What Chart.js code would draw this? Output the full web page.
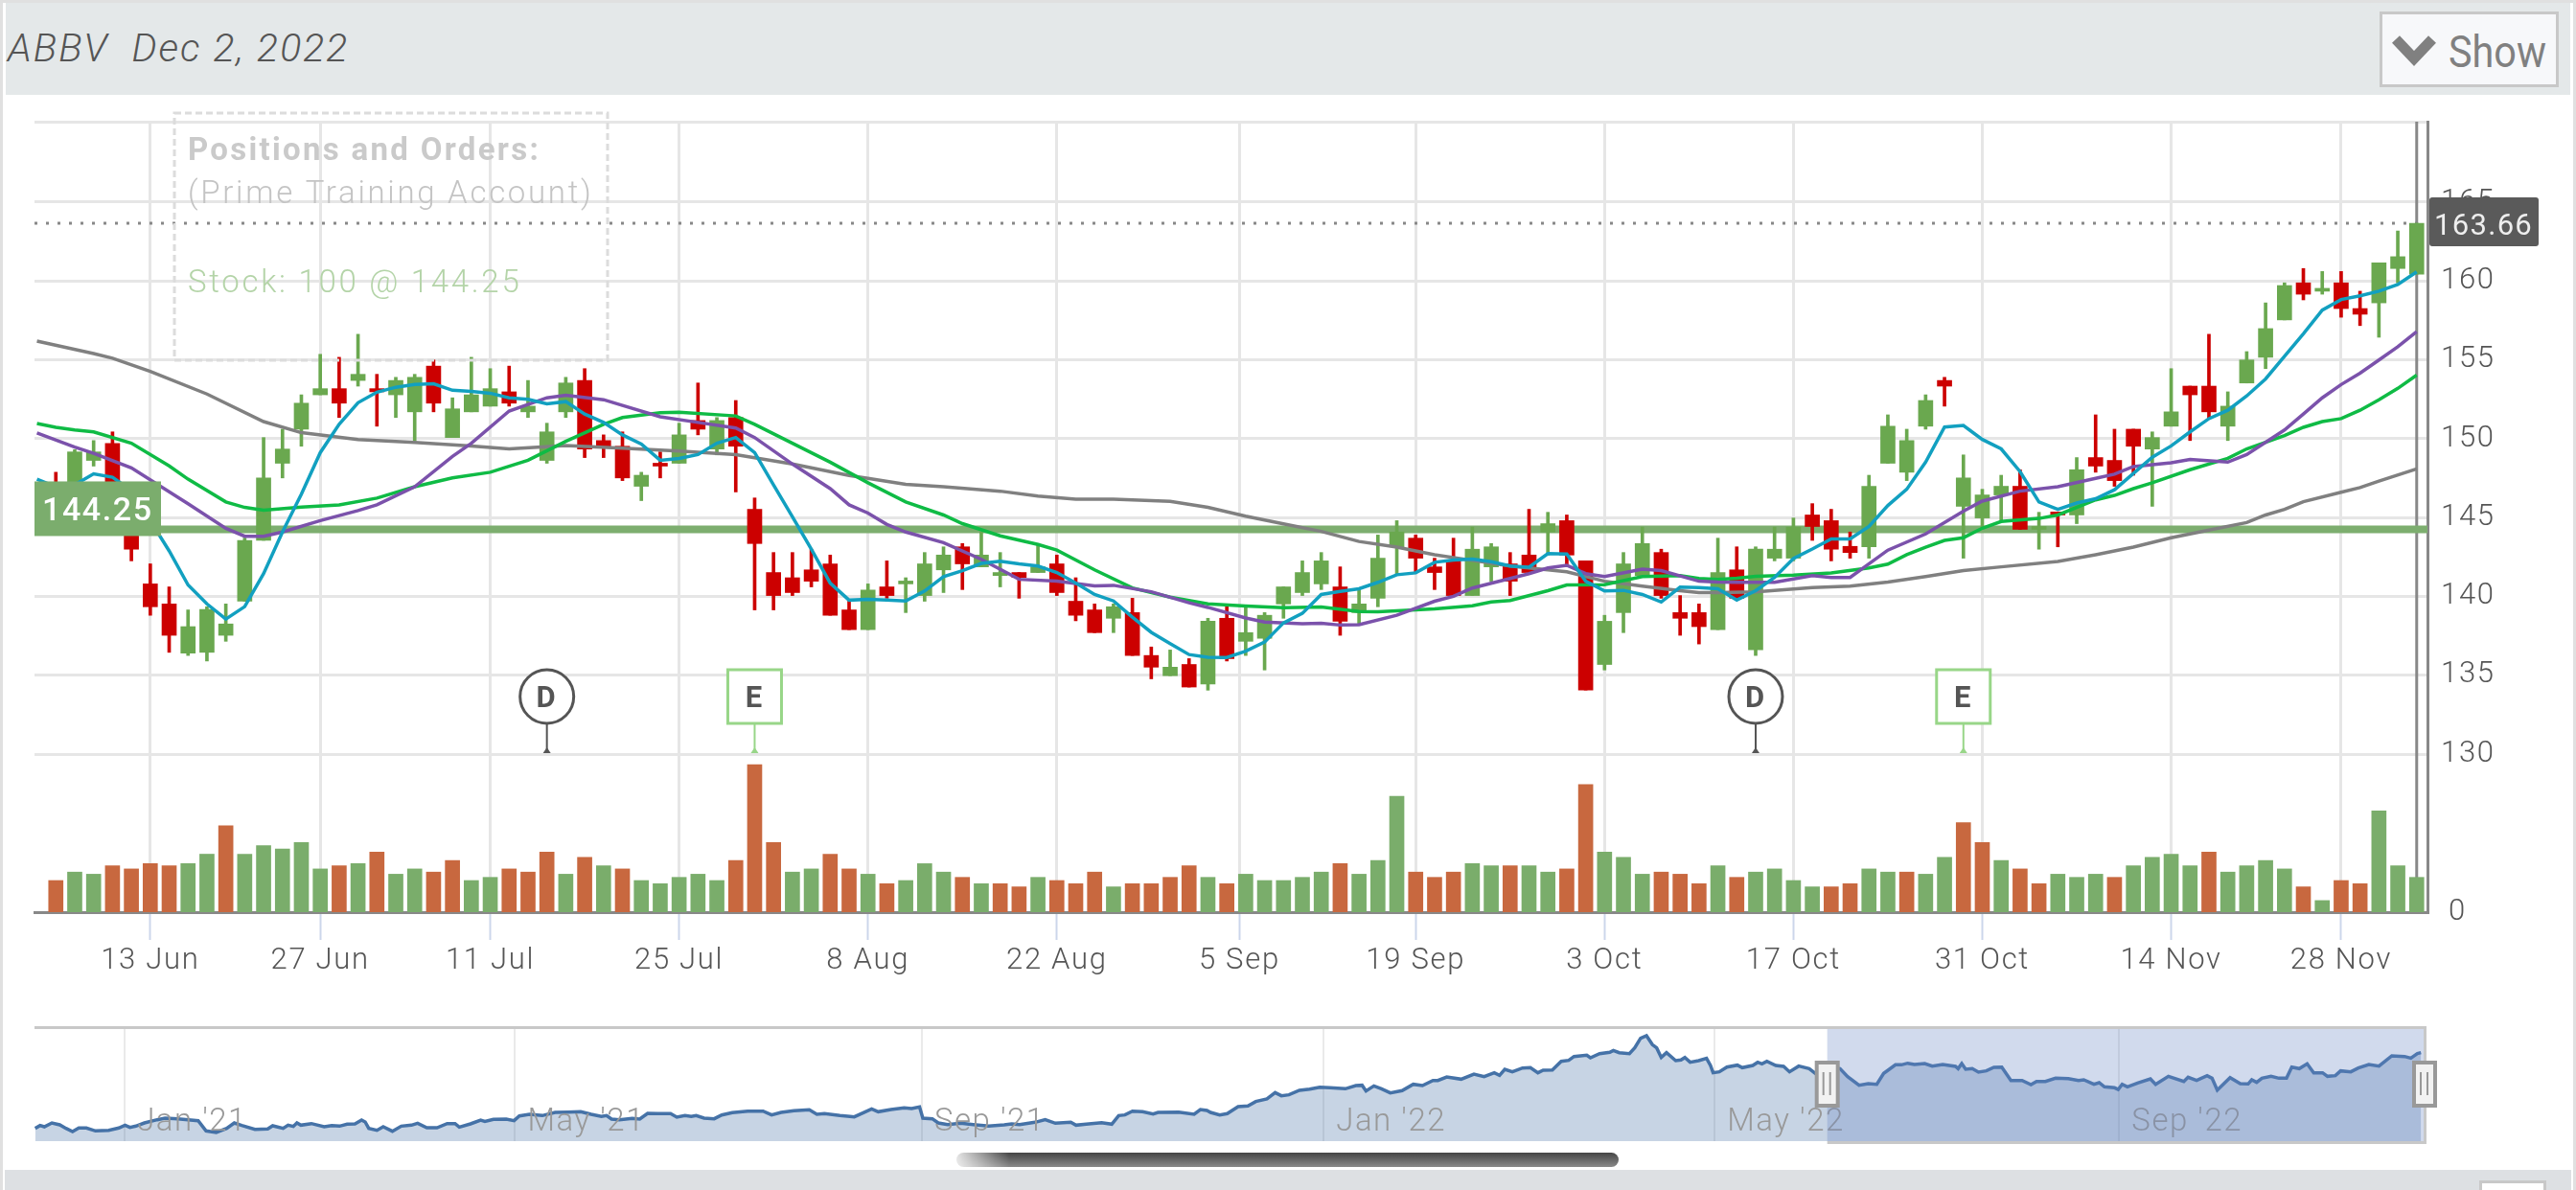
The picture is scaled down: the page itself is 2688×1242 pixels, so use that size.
<!DOCTYPE html>
<html>
<head>
<meta charset="utf-8">
<title>ABBV</title>
<script src="https://cdn.jsdelivr.net/npm/chart.js@4"></script>
<style>
html, body { margin: 0; padding: 0; background: #fff; width: 2688px; height: 1242px; overflow: hidden; font-family: Roboto, sans-serif; }
div, svg, canvas { position: absolute; }
</style>
</head>
<body>
<div style="left:0;top:0;width:2688px;height:3px;background:#e0e0e0"></div>
<div style="left:0;top:0;width:3px;height:1242px;background:#e0e0e0"></div>
<div style="left:2685px;top:0;width:3px;height:1242px;background:#e0e0e0"></div>
<div style="left:6px;top:3px;width:2676px;height:96px;background:#e4e8e9"></div>
<div style="left:8px;top:26px;font-size:41px;font-weight:300;font-style:italic;color:#555;letter-spacing:2px;white-space:pre">ABBV  Dec 2, 2022</div>
<div style="left:2483px;top:12px;width:181px;height:73px;border:3px solid #c8c8c8;background:#f7f8fa"></div>
<svg style="left:2483px;top:14px" width="70" height="79"><polyline points="17,27 36,47 55,27" fill="none" stroke="#808080" stroke-width="11"/></svg>
<div style="left:2555px;top:26px;font-size:47px;color:#808080;transform-origin:0 0;transform:scaleX(0.88)">Show</div>
<canvas id="main" width="2688" height="1060" style="left:0;top:0"></canvas>
<canvas id="nav" width="2688" height="140" style="left:0;top:1060px"></canvas>
<div style="left:998px;top:1203px;width:691px;height:15px;border-radius:8px;background:linear-gradient(to right,rgba(255,255,255,.85),rgba(255,255,255,0) 8%),linear-gradient(to bottom,#454545,#8a8a8a)"></div>
<div style="left:5px;top:1221px;width:2678px;height:21px;background:#dde0e3"></div>
<div style="left:2587px;top:1232px;width:64px;height:10px;border:3px solid #c8c8c8;border-bottom:0;background:#fff"></div>
<script>
// daily bars, Jun 6 to Dec 2 2022, index 0..125
const opens = [146.98,146.24,148.62,149.69,145.3,140.79,139.52,136.4,136.45,137.53,
139.69,143.55,148.44,150.6,152.78,153.17,153.69,153.17,152.78,151.7,
154.6,150.07,151.7,152.06,152.97,151.7,148.62,151.7,153.69,149.88,
149.52,146.98,148.44,148.44,151.15,149.34,151.34,145.52,141.51,141.18,
141.68,142.06,139.14,137.89,140.6,140.79,140.05,141.68,143.14,141.87,
141.32,141.51,141.51,142.06,139.69,139.14,138.61,138.97,136.25,134.97,
135.68,134.44,138.61,137.15,137.34,139.52,140.24,140.79,140.6,138.97,
139.88,143.14,143.69,141.87,142.25,140.05,141.87,142.06,142.62,144.08,
144.8,142.25,135.68,138.97,141.32,142.78,138.97,138.97,137.89,141.68,
136.61,142.42,142.42,145.16,144.8,143.17,143.14,148.44,147.87,150.79,
153.69,145.71,144.97,146.43,146.98,144.25,145.35,145.16,148.8,148.62,
150.6,149.34,150.79,153.33,153.33,150.79,153.53,155.16,157.53,159.88,
159.35,159.88,158.25,158.61,160.79,160.43];
const closes = [145.33,149.16,149.16,145.52,142.99,139.34,137.53,138.08,139.17,138.25,
143.55,147.51,149.34,152.25,153.17,152.25,154.08,152.97,153.69,153.89,
152.25,151.89,152.78,153.17,152.25,152.06,150.43,153.53,149.34,149.52,
147.51,147.68,148.26,150.24,150.6,151.15,149.52,143.35,140.05,140.24,
140.96,138.8,137.89,140.4,140.05,140.96,142.06,142.62,142.06,142.62,
141.51,141.2,141.87,140.24,138.8,137.7,139.34,136.25,135.51,135.51,
134.25,138.42,136.05,137.7,138.8,140.6,141.51,142.25,138.42,139.52,
142.42,144.08,142.42,141.51,140.05,142.99,143.14,140.96,141.51,144.61,
142.62,134.06,138.42,142.06,143.35,140.05,138.61,138.08,141.51,139.88,
142.99,142.99,144.39,144.43,142.99,142.78,146.98,150.79,149.88,152.42,
153.33,147.51,146.43,146.98,144.25,144.39,145.16,148.03,148.26,147.34,
149.52,150.07,151.7,152.78,151.7,152.06,154.99,156.98,159.71,159.16,
159.52,158.25,157.89,161.15,161.54,163.66];
const highs = [147.87,149.3,149.88,150.43,145.6,142.06,140.6,139.14,139.34,139.52,
143.7,150.07,150.6,152.78,155.35,155.16,156.62,154.08,153.89,154.08,
154.99,152.59,155.16,154.44,154.6,153.69,150.98,153.89,154.44,150.24,
150.43,147.87,149.16,150.98,153.53,151.34,152.42,146.24,142.78,142.78,
142.99,142.62,139.69,140.79,142.25,141.18,142.78,143.14,143.35,144.08,
142.78,141.51,143.35,142.62,141.18,139.52,139.52,139.88,136.79,136.6,
136.05,138.61,139.34,139.34,138.97,140.6,142.25,142.78,141.87,140.43,
143.89,144.8,143.89,142.42,143.69,144.39,143.35,142.78,145.52,145.33,
145.16,142.25,138.8,142.78,144.39,142.99,140.05,139.52,143.69,143.14,
143.14,144.39,144.97,145.88,145.52,144.08,147.68,151.51,150.6,152.78,
153.89,148.97,146.79,147.68,148.03,145.33,145.35,148.8,151.51,150.6,
150.6,150.43,154.44,153.33,156.62,152.97,155.52,158.61,159.88,160.79,
160.6,160.6,159.35,161.15,163.17,163.66];
const lows = [144.97,145.9,148.26,145.1,142.25,138.8,136.45,136.25,135.9,137.15,
139.69,143.55,147.51,149.52,152.78,151.34,153.33,150.79,151.34,149.8,
151.7,150.07,151.7,152.06,152.06,151.34,148.44,151.34,148.8,148.8,
147.34,146.07,147.51,148.44,150.24,148.97,146.62,139.14,139.14,140.05,
140.6,138.8,137.89,137.89,139.88,138.97,139.69,140.24,140.43,141.87,
140.6,139.88,141.51,140.05,138.45,137.7,137.7,136.25,134.77,134.97,
134.25,134.05,135.9,136.25,135.33,138.61,140.05,140.43,137.53,138.25,
139.34,141.32,141.51,140.43,140.05,140.05,140.96,140.05,141.51,142.62,
141.97,134.06,135.33,137.7,141.32,139.88,137.53,136.98,137.89,139.88,
136.25,142.25,142.25,143.55,142.25,142.42,142.42,148.44,147.34,150.6,
152.06,142.42,144.39,144.8,144.25,142.99,143.14,144.61,147.87,146.98,
147.68,145.71,150.79,149.88,151.27,149.88,153.53,154.44,157.53,158.8,
159.16,157.7,157.17,156.43,159.88,160.43];
// volume in millions, volUp 1 = green bar
const volumes = [3.0,3.8,3.6,4.4,4.1,4.6,4.4,4.6,5.5,8.2,5.5,6.3,6.0,6.6,4.1,4.4,4.6,5.7,3.6,4.1,
3.8,4.9,3.0,3.3,4.1,3.8,5.7,3.6,5.2,4.4,4.1,3.0,2.7,3.3,3.6,3.0,4.9,14.0,6.6,3.8,
4.1,5.5,4.1,3.6,2.7,3.0,4.6,3.8,3.3,2.7,2.7,2.4,3.3,3.0,2.7,3.8,2.4,2.7,2.7,3.3,
4.4,3.3,2.7,3.6,3.0,3.0,3.3,3.8,4.6,3.6,4.9,11.0,3.8,3.3,3.8,4.6,4.4,4.4,4.4,3.8,
4.1,12.1,5.7,5.2,3.6,3.8,3.6,2.7,4.4,3.3,3.8,4.1,3.0,2.4,2.4,2.7,4.1,3.8,3.8,3.6,
5.2,8.5,6.6,4.9,4.1,2.7,3.6,3.3,3.6,3.3,4.4,5.2,5.5,4.4,5.7,3.8,4.4,4.9,4.1,2.4,
1.1,3.0,2.7,9.6,4.4,3.3];
const volUp = [0,1,1,0,0,0,0,1,1,0,1,1,1,1,1,0,1,0,1,1,
0,0,1,1,0,0,0,1,0,1,0,1,1,1,1,1,0,0,0,1,
1,0,0,1,0,1,1,1,0,1,0,0,1,0,0,0,1,0,0,0,
0,1,0,1,1,1,1,1,0,1,1,1,0,0,0,1,1,0,1,1,
0,0,1,1,1,0,0,0,1,0,1,1,1,1,0,0,1,1,0,1,
1,0,0,1,0,0,1,1,1,0,1,1,1,1,0,1,1,1,1,0,
1,0,0,1,1,1];
// moving averages
const blueMa = [147.43,146.95,147.07,147.77,147.55,146.71,144.8,142.88,140.72,139.52,138.56,
139.35,141.44,144.08,146.48,149.11,150.91,152.28,152.95,153.26,153.43,
153.48,153.07,153.0,152.88,152.59,152.49,152.21,152.35,151.56,151.03,
150.24,149.66,148.63,148.75,148.99,149.71,150.07,149.11,147.07,145.04,
143.0,140.84,139.76,139.81,139.76,139.71,140.34,141.25,141.63,142.09,
142.23,142.06,141.92,141.51,140.84,140.12,139.71,138.68,137.72,137.0,
136.31,136.14,136.12,136.52,137.1,138.32,138.92,140.12,140.31,140.48,
140.89,141.37,141.49,142.16,142.3,142.37,142.2,141.92,141.85,142.71,
142.69,140.96,140.34,140.38,140.12,139.64,140.58,140.55,140.48,139.76,
140.36,141.2,142.4,143.0,143.64,143.64,144.44,145.76,146.79,148.51,
150.74,150.84,149.95,149.35,147.91,145.99,145.52,145.92,146.19,146.76,
147.79,148.82,149.54,150.43,151.27,151.8,152.71,153.79,155.22,156.65,
158.15,158.82,159.06,159.35,159.78,160.58];
const purpleDays = [-1,1,2,4,7,9,10,11,12,14,16,17,19,21,22,24,26,27,29,30,32,34,36,37,39,41,42,43,44,45,47,49,51,53,55,56,58,60,61,63,64,66,67,68,69,71,73,74,75,77,78,79,80,81,82,84,85,87,88,89,91,93,94,95,97,99,101,102,104,106,108,109,110,112,113,115,116,118,119,120,121,122,123,124,125];
const purpleMa = [150.36,149.47,149.07,148.15,145.87,144.31,143.81,143.81,144.08,144.8,145.44,145.8,146.95,148.87,149.71,151.75,152.59,152.76,152.47,152.11,151.39,151.03,150.67,150.07,148.39,146.83,145.8,145.28,144.56,144.08,143.41,142.35,141.08,140.96,140.67,140.7,140.29,139.59,139.3,138.63,138.37,138.27,138.3,138.18,138.2,138.8,139.69,140.0,140.53,141.13,141.44,141.8,141.97,141.44,141.25,141.73,141.63,140.96,140.91,140.89,140.89,141.32,141.2,141.2,142.93,143.96,145.4,146.04,146.67,146.95,147.48,147.75,148.23,148.47,148.68,148.51,148.99,150.55,151.56,152.59,153.43,154.15,154.99,155.83,156.79];
const greenDays = [-1,0,1,2,4,6,7,9,10,11,13,15,17,19,21,23,25,27,29,30,32,33,36,37,39,41,43,45,47,48,50,52,53,55,57,59,61,63,65,67,69,70,73,75,76,77,79,80,82,84,86,87,88,89,90,92,94,96,97,98,99,100,101,102,103,105,106,108,109,110,111,113,115,116,118,119,120,121,122,123,124,125];
const greenMa = [150.96,150.72,150.55,150.43,149.71,148.27,147.43,145.99,145.64,145.47,145.66,145.8,146.23,146.95,147.51,147.87,148.63,149.83,150.91,151.34,151.65,151.68,151.44,150.91,149.71,148.51,147.2,145.99,145.16,144.61,143.84,143.29,142.93,141.68,140.53,139.95,139.52,139.38,139.28,139.33,139.04,139.02,139.2,139.4,139.64,139.74,140.36,140.72,140.74,141.25,141.32,141.13,141.08,141.15,141.27,141.34,141.49,141.8,142.04,142.64,143.12,143.55,143.72,144.32,144.75,144.94,145.16,146.12,146.4,146.83,147.2,148.03,148.75,149.35,150.19,150.72,151.08,151.27,151.8,152.47,153.19,154.03];
const grayDays = [-1,2,3,5,8,11,13,16,19,22,24,27,30,33,36,39,42,43,45,47,50,52,54,56,59,61,63,65,67,69,71,73,75,77,80,82,84,86,87,88,90,93,95,97,99,101,103,106,108,110,112,114,116,117,118,119,121,122,123,125];
const grayMa = [156.19,155.4,155.1,154.27,152.83,151.08,150.38,149.95,149.76,149.54,149.35,149.57,149.4,149.21,148.99,148.39,147.67,147.48,147.1,146.95,146.67,146.36,146.16,146.16,146.02,145.64,145.08,144.6,144.12,143.48,143.12,142.64,142.28,141.92,141.56,140.96,140.65,140.36,140.24,140.24,140.29,140.55,140.65,140.91,141.25,141.63,141.87,142.21,142.64,143.12,143.72,144.2,144.68,145.16,145.52,146.0,146.6,146.9,147.31,148.08];
const xTickPositions = [5,14,23,33,43,53,62.67,72,82,92,102,112,121];
const xTickLabels = ['13 Jun','27 Jun','11 Jul','25 Jul','8 Aug','22 Aug','5 Sep','19 Sep','3 Oct','17 Oct','31 Oct','14 Nov','28 Nov'];
const priceTicks = [130,135,140,145,150,155,160,165];
const dividendBars = [26,90];
const earningsBars = [37,101];
const positionPrice = 144.25;
const lastPrice = 163.66;
const positionLines = ['Positions and Orders:','(Prime Training Account)','Stock: 100 @ 144.25'];
// navigator, x = days since Jan 1 2021
const navDays = [-27.3,-25.8,-24.5,-22.2,-19.8,-17.9,-15.9,-14,-11.7,-8.9,-4.9,-1.8,0.1,1.6,3.4,6,9.9,12.3,16.2,22.4,24.8,27.9,31.1,33.4,35.7,39.7,43.6,45.1,48.3,49.8,51.4,52.5,53.7,56.9,60.8,63.1,65.5,67.8,70.2,72.2,73.3,74.4,76.9,78.8,81.6,84.3,87.4,89.3,92.1,95.2,98.3,100.7,102,105.4,108.5,109.8,112.4,116.3,118.7,120.3,123.4,127.3,131.2,135.1,139,142.2,145.3,146.9,148.4,150.8,154.7,157,159.4,162.5,166.4,168.3,170.8,172.7,174.2,176.6,179.7,182,185.2,189.9,194.6,197.2,200.1,204,208.7,211,
213.3,218,221.1,222.4,225,227.7,229.7,233.6,237.6,239.9,242.3,243.3,246.2,248,250.9,254.8,258.7,263.4,268.1,270.4,272.8,277.5,280.6,283.7,288.4,290,293.1,297.8,300.9,303,304.9,307.2,310.3,313.5,315,321.3,326,327.9,329.9,331,333.8,336.1,339.4,342.4,344.8,348.2,350.7,352.6,354.9,358.1,361.2,364.3,367.4,372.1,375.3,377.2,378.4,380.8,383.1,385.8,389.4,392.8,395.6,398.8,400.3,403,407.4,411.3,414.4,417.5,419.1,420.7,423,426.1,428.5,430.8,432.4,435.2,437.9,440.2,441.8,445.7,446.8,449.6,452.7,453.8,455.6,
458.7,460.3,462.1,463.9,465.7,467,468.4,470,472.8,474.4,475.6,477.2,479.8,482.2,483.4,484.2,486.1,488.4,491.6,493.1,496.3,497.8,499.1,500.6,503.3,505.7,507.5,510.3,513.5,515.4,519,522.9,525.2,528.7,531.5,534.1,536.2,539.8,541.6,543.5,545.6,548.7,551,554.2,558.1,558.9,560,561.2,563.2,565.1,567.5,569.8,572.2,575,578.4,581.1,582.8,585.5,588.6,592.5,595.6,597.2,600.3,601.9,603.5,606.6,607.7,608.9,610.5,613.6,617.5,619.1,623,627.7,629,631.6,634.8,636.3,637.9,641.8,644.9,647.3,648.4,649.9,651.5,654.3,656.7,659,660.6,662.9,665.3,667.3,670,671.5,673.9,675.5,678.6,680.9,684.1,687.2,691.1,695,696.9,698.9,700];
const navClose = [117,118.8,118,120.4,119.2,117,115,117.2,117.2,115.4,115.8,117.2,119,117.6,118.4,120.4,122.4,123.4,123,121.8,115.4,114.4,117,120.4,118.8,116.4,116.6,118.6,117,119,118.2,120.4,119,120,118,118.8,118.4,119.6,119.8,122.2,121,117,115.8,118,115.2,118.4,119,120.2,117.4,117.4,120,120,117.8,119.8,122.2,121.4,122.6,122.8,121.8,124.8,125.8,125,127,127.2,127.4,125.8,124.4,125,122.8,122.4,123.2,122.8,126.4,126.2,126.2,124,125,124.4,125,123.4,123,125.4,126.8,127.8,127.8,125.4,127,128,128.6,125.8,
126.2,125,124.4,124.2,126.6,129.2,127.4,128.8,129.8,129.4,130.4,123.4,123,120.4,119.4,120.2,119.4,118.4,119.2,119.8,119.4,120.8,122.4,120.2,120.8,119,119.6,120.6,119.6,125,125.4,127.8,127.4,126,127,127.2,125.8,128.8,128.2,127,125.4,126.2,130.6,131,133.8,135.4,139.4,137.4,138,140.8,141.6,142.8,142.4,141.8,143.8,144,140.4,143.6,141.8,139.2,140.6,144.6,143.8,147,147,149.2,147.8,151,149.4,151.8,150.2,154,152.4,154.8,155,151.8,153.4,153.6,159,159.6,162,162.8,161.2,163.8,164.6,165.8,164.4,
163.8,167.4,173.4,175,169.4,167.4,161.4,164.4,159.4,159.8,161.4,158.4,159.4,160.8,156.4,151.8,152.4,155.4,156.6,155,156.4,158.4,157.4,159,156.4,155.8,152.4,156,154.4,151.4,155.4,154.4,149.4,144,145,144.6,151.4,156.8,156.8,157.8,157,157.6,156,157,155.8,154.4,157.6,154,154.4,152.2,153,155.2,155.4,147,147,144.4,146.4,146.4,148.4,148.2,147,147.4,144.6,145.6,143,142.4,141.4,144.6,143,145.4,148,144.6,149.6,146.4,149,147,150,148.4,141,148.8,145,144.8,147.4,145.8,148.4,149.6,148.4,148.4,155.4,154.4,157.4,151.8,151.8,149.6,150,153,152.4,154.8,157,156,162.4,162,161,163.8,164.4];
const navTickDays = [0,119,243,365.5,484.7,608];
const navTickLabels = ["Jan '21","May '21","Sep '21","Jan '22","May '22","Sep '22"];
const navSelection = [519,700.8];

const barIdx = opens.map((o, i) => i);
const blueDays = [-1].concat(barIdx);
const FONT = 'Roboto, sans-serif';
const CANDLE_UP = '#6aa84f', CANDLE_DOWN = '#cc0000';
const candleColors = opens.map((o, i) => closes[i] >= o ? CANDLE_UP : CANDLE_DOWN);
const pts = (xs, ys) => xs.map((x, i) => ({x: x, y: ys[i]}));
const xMin = -1.13, xMax = 125.57;
const yMax = 170.1;

function text(ctx, str, x, y, font, color, spacing, align) {
	ctx.save();
	ctx.font = font;
	ctx.fillStyle = color;
	ctx.letterSpacing = spacing || '0px';
	ctx.textAlign = align || 'left';
	ctx.textBaseline = 'alphabetic';
	ctx.fillText(str, x, y);
	ctx.restore();
}

function stem(ctx, x, color) {
	ctx.strokeStyle = color;
	ctx.fillStyle = color;
	ctx.lineWidth = 2;
	ctx.beginPath();
	ctx.moveTo(x, 755);
	ctx.lineTo(x, 782);
	ctx.stroke();
	ctx.beginPath();
	ctx.moveTo(x - 4, 786);
	ctx.lineTo(x, 780);
	ctx.lineTo(x + 4, 786);
	ctx.fill();
}

const overlays = {
	id: 'overlays',
	beforeDraw(chart) {
		chart.ctx.letterSpacing = '1.7px';
	},
	beforeDatasetsDraw(chart) {
		const ctx = chart.ctx, a = chart.chartArea;
		const x = chart.scales.x.getPixelForValue(barIdx[barIdx.length - 1]);
		ctx.save();
		ctx.strokeStyle = '#888';
		ctx.lineWidth = 3;
		ctx.beginPath();
		ctx.moveTo(x, a.top);
		ctx.lineTo(x, a.bottom);
		ctx.stroke();
		ctx.restore();
	},
	afterDatasetsDraw(chart) {
		const ctx = chart.ctx, sx = chart.scales.x;
		ctx.save();
		// positions box
		ctx.strokeStyle = '#dcdcdc';
		ctx.lineWidth = 3;
		ctx.setLineDash([7, 4]);
		ctx.strokeRect(182, 118, 452, 258);
		ctx.setLineDash([]);
		text(ctx, positionLines[0], 196, 167, 'bold 33px ' + FONT, '#cacaca', '2.3px');
		text(ctx, positionLines[1], 196, 212, '300 33px ' + FONT, '#c4c4c4', '2.7px');
		text(ctx, positionLines[2], 196, 305, '300 33px ' + FONT, '#b4d4a8', '2.7px');
		// dividend and earnings flags
		dividendBars.forEach(i => {
			const x = sx.getPixelForValue(i);
			stem(ctx, x, '#555');
			ctx.strokeStyle = '#555';
			ctx.lineWidth = 3;
			ctx.fillStyle = '#fff';
			ctx.beginPath();
			ctx.arc(x, 727, 28, 0, Math.PI * 2);
			ctx.fill();
			ctx.stroke();
			text(ctx, 'D', x - 1, 738, 'bold 31px ' + FONT, '#555', '0px', 'center');
		});
		earningsBars.forEach(i => {
			const x = sx.getPixelForValue(i);
			stem(ctx, x, '#98d688');
			ctx.strokeStyle = '#98d688';
			ctx.lineWidth = 3;
			ctx.fillStyle = '#fff';
			ctx.fillRect(x - 28, 699, 56, 56);
			ctx.strokeRect(x - 28, 699, 56, 56);
			text(ctx, 'E', x - 1, 738, 'bold 31px ' + FONT, '#555', '0px', 'center');
		});
		ctx.restore();
	},
	afterDraw(chart) {
		const ctx = chart.ctx, sy = chart.scales.y;
		ctx.save();
		const yPos = sy.getPixelForValue(positionPrice);
		ctx.fillStyle = '#7bad6d';
		ctx.fillRect(36, yPos - 50, 132, 57);
		text(ctx, positionPrice.toFixed(2), 44, yPos - 9, '500 34px ' + FONT, '#fff', '1.6px');
		const yLast = sy.getPixelForValue(lastPrice);
		ctx.fillStyle = '#5a5a5a';
		ctx.beginPath();
		ctx.roundRect(2535, yLast - 27, 114, 51, 3);
		ctx.fill();
		text(ctx, lastPrice.toFixed(2), 2540, yLast + 12, '400 31px ' + FONT, '#eee', '1.3px');
		ctx.restore();
	}
};

const tickFont = {family: FONT, size: 31, weight: '300'};

new Chart(document.getElementById('main'), {
	type: 'bar',
	plugins: [overlays],
	data: {
		datasets: [
			{type: 'line', label: 'Position', data: pts([xMin, xMax], [positionPrice, positionPrice]), yAxisID: 'y', borderColor: '#7dae6f', borderWidth: 8, pointRadius: 0, order: 20},
			{type: 'line', label: 'Last', data: pts([xMin, 125], [lastPrice, lastPrice]), yAxisID: 'y', borderColor: '#888', borderWidth: 3, borderDash: [3, 9], pointRadius: 0, order: 19},
			{label: 'Volume', data: pts(barIdx, volumes), yAxisID: 'yVol', backgroundColor: volUp.map(u => u ? '#7aad6b' : '#c8683f'), barThickness: 15, grouped: false, order: 18},
			{label: 'Range', data: barIdx.map(i => ({x: i, y: [lows[i], highs[i]]})), yAxisID: 'y', backgroundColor: candleColors, barThickness: 3, grouped: false, order: 17},
			{label: 'Body', data: barIdx.map(i => ({x: i, y: [opens[i], closes[i]]})), yAxisID: 'y', backgroundColor: candleColors, barThickness: 15, minBarLength: 3, grouped: false, order: 16},
			{type: 'line', label: 'MA gray', data: pts(grayDays, grayMa), yAxisID: 'y', borderColor: '#808080', borderWidth: 3.5, pointRadius: 0, order: 4},
			{type: 'line', label: 'MA green', data: pts(greenDays, greenMa), yAxisID: 'y', borderColor: '#0fbb45', borderWidth: 3.5, pointRadius: 0, order: 3},
			{type: 'line', label: 'MA purple', data: pts(purpleDays, purpleMa), yAxisID: 'y', borderColor: '#7b52ab', borderWidth: 3.5, pointRadius: 0, order: 2},
			{type: 'line', label: 'MA blue', data: pts(blueDays, blueMa), yAxisID: 'y', borderColor: '#12a0c0', borderWidth: 3.5, pointRadius: 0, order: 1}
		]
	},
	options: {
		responsive: false,
		animation: false,
		devicePixelRatio: 1,
		events: [],
		layout: {padding: {left: 36, top: 127, right: 55, bottom: 28}},
		plugins: {legend: {display: false}, tooltip: {enabled: false}},
		scales: {
			x: {
				type: 'linear',
				min: xMin,
				max: xMax,
				offset: false,
				afterBuildTicks: s => { s.ticks = xTickPositions.map(v => ({value: v})); },
				afterFit: s => { s.height = 80; },
				grid: {offset: false, color: '#e6e6e6', lineWidth: 3, tickColor: '#ccd6eb', tickLength: 29, tickWidth: 2},
				border: {color: '#888', width: 3},
				ticks: {
					autoSkip: false,
					maxRotation: 0,
					padding: 4,
					color: '#555',
					font: tickFont,
					callback: v => xTickLabels[xTickPositions.indexOf(v)]
				}
			},
			y: {
				type: 'linear',
				position: 'right',
				stack: 'panes',
				stackWeight: 660,
				min: 130,
				max: yMax,
				afterBuildTicks: s => { s.ticks = priceTicks.concat([yMax]).map(v => ({value: v})); },
				afterFit: s => { s.width = 100; },
				grid: {color: '#e6e6e6', lineWidth: 3, drawTicks: false},
				border: {color: '#888', width: 3},
				ticks: {
					padding: 14,
					color: '#555',
					font: tickFont,
					callback: v => priceTicks.includes(v) ? String(v) : ''
				}
			},
			yVol: {
				type: 'linear',
				axis: 'y',
				position: 'right',
				stack: 'panes',
				stackWeight: 165,
				min: 0,
				max: 15,
				afterBuildTicks: s => { s.ticks = [{value: 0}]; },
				afterFit: s => { s.width = 100; },
				grid: {display: false},
				border: {color: '#888', width: 3},
				ticks: {
					padding: 14,
					color: '#555',
					font: tickFont,
					callback: v => String(v)
				}
			}
		}
	}
});

const navDecor = {
	id: 'navDecor',
	afterDraw(chart) {
		const ctx = chart.ctx, sx = chart.scales.x, a = chart.chartArea;
		ctx.save();
		navTickDays.forEach((d, i) => {
			text(ctx, navTickLabels[i], sx.getPixelForValue(d) + 13, 120, '300 33px ' + FONT, '#999', '1.5px');
		});
		const x0 = sx.getPixelForValue(navSelection[0]), x1 = sx.getPixelForValue(navSelection[1]);
		ctx.fillStyle = 'rgba(102,133,194,0.3)';
		ctx.fillRect(x0, a.top, x1 - x0, a.bottom - a.top);
		ctx.fillStyle = '#c8c8c8';
		ctx.fillRect(36, a.top - 1, 2496, 3);
		ctx.fillRect(x0, a.bottom, 2532 - x0, 3);
		ctx.fillRect(x1, a.top, 3, a.bottom - a.top + 3);
		[x0, x1 + 1].forEach(x => {
			ctx.fillStyle = '#f2f2f2';
			ctx.strokeStyle = '#999';
			ctx.lineWidth = 4;
			ctx.fillRect(x - 11, 49, 22, 45);
			ctx.strokeRect(x - 11, 49, 22, 45);
			ctx.fillStyle = '#999';
			ctx.fillRect(x - 5, 59, 2, 24);
			ctx.fillRect(x + 2, 59, 2, 24);
		});
		ctx.restore();
	}
};

new Chart(document.getElementById('nav'), {
	type: 'line',
	plugins: [navDecor],
	data: {
		datasets: [{
			label: 'ABBV',
			data: pts(navDays, navClose),
			borderColor: '#4572a7',
			borderWidth: 3.5,
			backgroundColor: 'rgba(69,114,167,0.3)',
			fill: 'start',
			pointRadius: 0
		}]
	},
	options: {
		responsive: false,
		animation: false,
		devicePixelRatio: 1,
		events: [],
		layout: {padding: {left: 36, top: 12, right: 159, bottom: 9}},
		plugins: {legend: {display: false}, tooltip: {enabled: false}},
		scales: {
			x: {
				type: 'linear',
				min: -27.5,
				max: 700.8,
				afterBuildTicks: s => { s.ticks = navTickDays.map(v => ({value: v})); },
				afterFit: s => { s.height = 0; },
				grid: {color: '#eaeaea', lineWidth: 2, drawTicks: false},
				border: {display: false},
				ticks: {display: false}
			},
			y: {type: 'linear', display: false, min: 109, max: 180.4}
		}
	}
});
</script>
</body>
</html>
